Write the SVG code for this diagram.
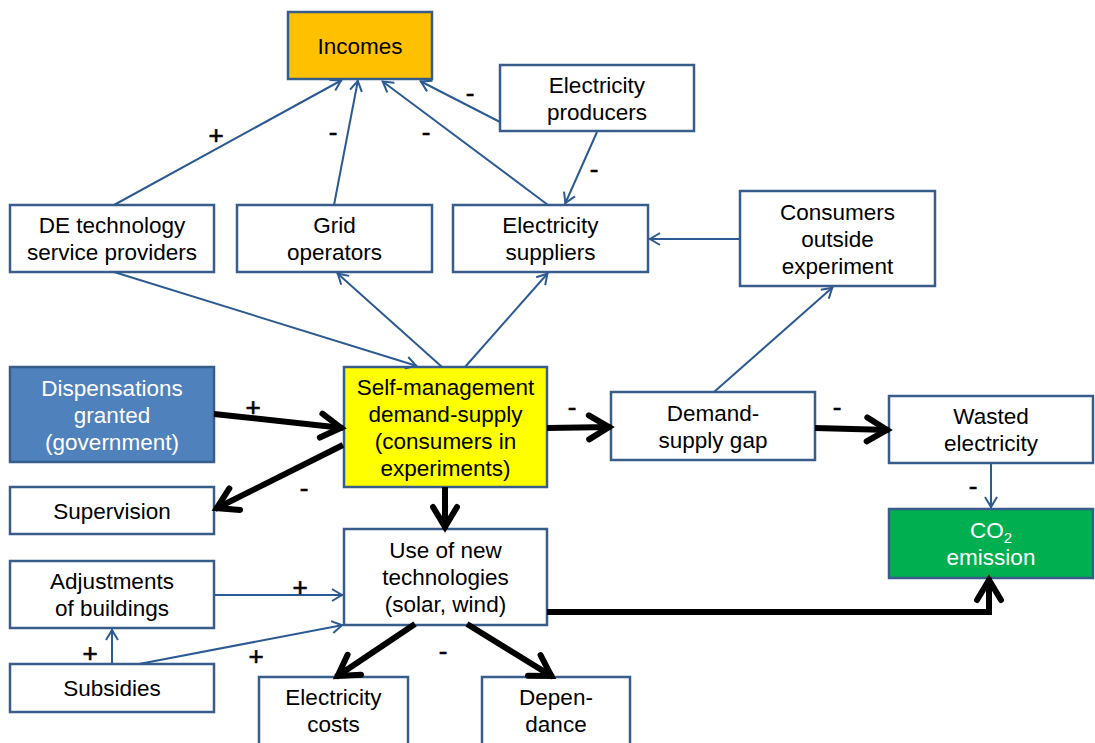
<svg xmlns="http://www.w3.org/2000/svg" width="1095" height="743" viewBox="0 0 1095 743">
  <defs>
    <style>
      .box { fill: #ffffff; stroke: #385D8A; stroke-width: 2.5; }
      .lbl { font-family: "Liberation Sans", Arial, sans-serif; font-size: 22.5px; fill: #000000; text-anchor: middle; }
      .wht { fill: #ffffff; }
      .sign { font-family: "Liberation Sans", Arial, sans-serif; font-size: 26px; fill: #000000; text-anchor: middle; stroke: #000000; stroke-width: 0.6; }
      .thin { fill: none; stroke: #2C5A92; stroke-width: 2; marker-end: url(#headThin); }
      .thick { fill: none; stroke: #000000; stroke-width: 6; marker-end: url(#headThick); }
    </style>
    <marker id="headThin" viewBox="0 0 16 14" refX="12" refY="7" markerWidth="16" markerHeight="14" orient="auto" markerUnits="userSpaceOnUse">
      <path d="M1,1 L11,7 L1,13" fill="none" stroke="#2C5A92" stroke-width="2"/>
    </marker>
    <marker id="headThick" viewBox="0 0 34 32" refX="26" refY="16" markerWidth="34" markerHeight="32" orient="auto" markerUnits="userSpaceOnUse">
      <path d="M4,4 L24,16 L4,28" fill="none" stroke="#000000" stroke-width="6" stroke-linecap="round"/>
    </marker>
  </defs>

  <g id="incomes">
    <rect x="288" y="12" width="144" height="67" class="box" style="fill:#FFC000"/>
    <text class="lbl" x="360" y="53.5">Incomes</text>
  </g>
  <g id="electricity-producers">
    <rect x="500" y="65" width="194" height="66" class="box"/>
    <text class="lbl" x="597" y="92.5">Electricity</text>
    <text class="lbl" x="597" y="119.5">producers</text>
  </g>
  <g id="de-technology">
    <rect x="10" y="205" width="204" height="67" class="box"/>
    <text class="lbl" x="112" y="233">DE technology</text>
    <text class="lbl" x="112" y="260">service providers</text>
  </g>
  <g id="grid-operators">
    <rect x="237" y="205" width="195" height="67" class="box"/>
    <text class="lbl" x="334.5" y="233">Grid</text>
    <text class="lbl" x="334.5" y="260">operators</text>
  </g>
  <g id="electricity-suppliers">
    <rect x="453" y="205" width="195" height="67" class="box"/>
    <text class="lbl" x="550.5" y="233">Electricity</text>
    <text class="lbl" x="550.5" y="260">suppliers</text>
  </g>
  <g id="consumers-outside">
    <rect x="740" y="191" width="195" height="95" class="box"/>
    <text class="lbl" x="837.5" y="219.5">Consumers</text>
    <text class="lbl" x="837.5" y="246.5">outside</text>
    <text class="lbl" x="837.5" y="273.5">experiment</text>
  </g>
  <g id="dispensations">
    <rect x="10" y="367" width="204" height="95" class="box" style="fill:#4F81BD"/>
    <text class="lbl wht" x="112" y="395.5">Dispensations</text>
    <text class="lbl wht" x="112" y="422.5">granted</text>
    <text class="lbl wht" x="112" y="449.5">(government)</text>
  </g>
  <g id="self-management">
    <rect x="344" y="367" width="203" height="120" class="box" style="fill:#FFFF00"/>
    <text class="lbl" x="445.5" y="394.5">Self-management</text>
    <text class="lbl" x="445.5" y="421.5">demand-supply</text>
    <text class="lbl" x="445.5" y="448.5">(consumers in</text>
    <text class="lbl" x="445.5" y="475.5">experiments)</text>
  </g>
  <g id="supervision">
    <rect x="10" y="487" width="204" height="47" class="box"/>
    <text class="lbl" x="112" y="518.5">Supervision</text>
  </g>
  <g id="new-technologies">
    <rect x="344" y="529" width="203" height="96" class="box"/>
    <text class="lbl" x="445.5" y="558">Use of new</text>
    <text class="lbl" x="445.5" y="585">technologies</text>
    <text class="lbl" x="445.5" y="612">(solar, wind)</text>
  </g>
  <g id="adjustments">
    <rect x="10" y="561" width="204" height="67" class="box"/>
    <text class="lbl" x="112" y="589">Adjustments</text>
    <text class="lbl" x="112" y="616">of buildings</text>
  </g>
  <g id="subsidies">
    <rect x="10" y="664" width="204" height="48" class="box"/>
    <text class="lbl" x="112" y="696">Subsidies</text>
  </g>
  <g id="electricity-costs">
    <rect x="259" y="677" width="149" height="80" class="box"/>
    <text class="lbl" x="333.5" y="705">Electricity</text>
    <text class="lbl" x="333.5" y="732">costs</text>
  </g>
  <g id="dependance">
    <rect x="482" y="677" width="148" height="80" class="box"/>
    <text class="lbl" x="556" y="705">Depen-</text>
    <text class="lbl" x="556" y="732">dance</text>
  </g>
  <g id="demand-supply-gap">
    <rect x="611" y="392" width="204" height="68" class="box"/>
    <text class="lbl" x="713" y="420.5">Demand-</text>
    <text class="lbl" x="713" y="447.5">supply gap</text>
  </g>
  <g id="wasted-electricity">
    <rect x="889" y="396" width="204" height="67" class="box"/>
    <text class="lbl" x="991" y="424">Wasted</text>
    <text class="lbl" x="991" y="451">electricity</text>
  </g>
  <g id="co2-emission">
    <rect x="889" y="509" width="204" height="69" class="box" style="fill:#00B050"/>
    <text class="lbl wht" x="991" y="538">CO<tspan font-size="15" dy="5">2</tspan></text>
    <text class="lbl wht" x="991" y="565">emission</text>
  </g>

  <g id="connectors">
    <!-- thin influence links -->
    <path class="thin" d="M114,205 L342,80"/>
    <path class="thin" d="M334,205 L358,80"/>
    <path class="thin" d="M548,205 L382,81"/>
    <path class="thin" d="M500,122 L420,81"/>
    <path class="thin" d="M597,132 L565,204"/>
    <path class="thin" d="M740,239 L649,239"/>
    <path class="thin" d="M114,272 L417,366"/>
    <path class="thin" d="M442,367 L337,273"/>
    <path class="thin" d="M465,367 L548,273"/>
    <path class="thin" d="M714,392 L833,287"/>
    <path class="thin" d="M991,463 L991,508"/>
    <path class="thin" d="M214,595 L343,595"/>
    <path class="thin" d="M112,664 L112,629"/>
    <path class="thin" d="M139,664 L343,625"/>
    <!-- thick main links -->
    <path class="thick" d="M214,414 L343,428"/>
    <path class="thick" d="M343,445 L215,509"/>
    <path class="thick" d="M445,487 L445,529"/>
    <path class="thick" d="M547,428 L611,427"/>
    <path class="thick" d="M815,428 L889,430"/>
    <path class="thick" d="M547,612 H989 V578"/>
    <path class="thick" d="M415,624 L336,677"/>
    <path class="thick" d="M467,624 L553,677"/>
    <!-- polarity signs -->
    <text class="sign" x="216" y="144">+</text>
    <text class="sign" x="333" y="141">-</text>
    <text class="sign" x="426" y="141">-</text>
    <text class="sign" x="470" y="102">-</text>
    <text class="sign" x="594" y="178">-</text>
    <text class="sign" x="253" y="416">+</text>
    <text class="sign" x="304" y="497">-</text>
    <text class="sign" x="300" y="596">+</text>
    <text class="sign" x="90" y="662">+</text>
    <text class="sign" x="256" y="665">+</text>
    <text class="sign" x="443" y="660">-</text>
    <text class="sign" x="572" y="416">-</text>
    <text class="sign" x="837" y="416">-</text>
    <text class="sign" x="973" y="495">-</text>
  </g>
</svg>
